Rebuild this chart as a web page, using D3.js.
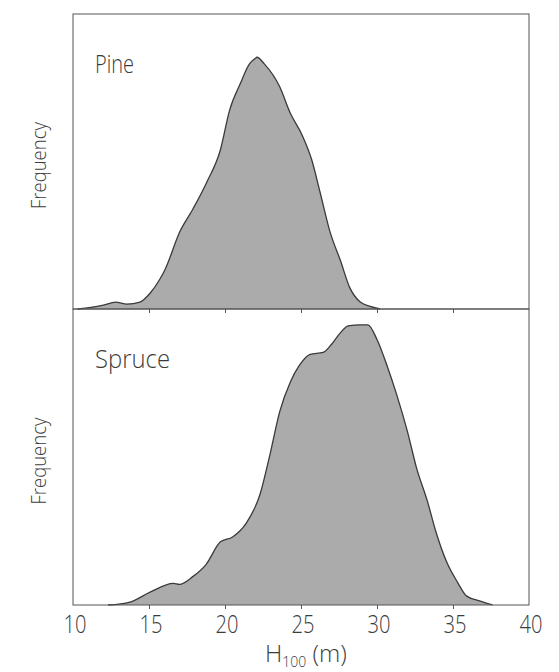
<!DOCTYPE html>
<html><head><meta charset="utf-8">
<script src="https://cdn.jsdelivr.net/npm/d3@7"></script>
<style>body{margin:0;background:#fff}</style>
</head><body>
<svg id="c" width="559" height="672"></svg>
<script>
// Data (H100 in m, relative frequency)
const pineH = [10.3,12.0,12.8,13.55,14.4,15.07,15.7,16.05,17.04,17.9,18.8,19.7,20.3,21.0,21.6,22.0,22.1,22.6,23.6,24.3,25.1,25.7,26.25,26.9,27.6,28.2,28.9,29.5,30.2];
const pineF = [0,4,7,5,7,16,30,40,79,102,129,162,202,229,249,255,256,249,226,199,176,152,119,79,49,22,7,3,0];
const spruceH = [12.3,13.75,15.07,16.6,17.0,17.9,18.75,19.7,20.5,21.4,22.3,22.95,23.6,24.3,24.9,25.6,26.45,27.0,27.6,28.1,28.9,29.4,30.0,30.65,31.3,32.0,32.6,33.3,33.9,34.6,35.3,35.9,36.8,37.6];
const spruceF = [0,3,13,22,21,29,41,64,69,83,112,152,196,226,243,254,256,264,276,283,284,284,269,243,213,176,139,106,73,43,23,9,4,0];
const xTicks = [10,15,20,25,30,35,40];
const panels = [
  {name:"Pine", h:pineH, f:pineF},
  {name:"Spruce", h:spruceH, f:spruceF}
];

const svg = d3.select("#c");
const left = 73, right = 529;
const tops = [14, 309], bottoms = [309, 605];
const x = d3.scaleLinear().domain([10,40]).range([left,right]);
const font = "'Open Sans', Inter, sans-serif";
function thin(sel){ return sel.attr("font-family",font).attr("font-weight",300).attr("fill","#3c3c3c"); }

panels.forEach((p,i)=>{
  const y = d3.scaleLinear().domain([0,300]).range([bottoms[i], tops[i]]);
  const pts = p.h.map((h,k)=>[h,p.f[k]]);
  const area = d3.area().x(d=>x(d[0])).y0(y(0)).y1(d=>y(d[1])).curve(d3.curveMonotoneX);
  const line = d3.line().x(d=>x(d[0])).y(d=>y(d[1])).curve(d3.curveMonotoneX);
  svg.append("path").attr("d", area(pts)).attr("fill","#ababab");
  svg.append("path").attr("d", line(pts)).attr("fill","none").attr("stroke","#3a3a3a").attr("stroke-width",1.3);
  // frame
  svg.append("rect").attr("x",left).attr("y",tops[i]).attr("width",right-left).attr("height",bottoms[i]-tops[i])
    .attr("fill","none").attr("stroke","#555").attr("stroke-width",1);
  // ticks at bottom of panel
  const ax = svg.append("g").attr("transform",`translate(0,${bottoms[i]})`)
    .call(d3.axisBottom(x).tickValues(xTicks.slice(1,-1)).tickSize(4).tickFormat(""));
  ax.select(".domain").remove();
  ax.selectAll("line").attr("stroke","#555");
  // panel label
  thin(svg.append("text").attr("x",95).attr("y",tops[i]+59).text(p.name))
    .attr("font-size",26)
    .attr("textLength", i===0?39:75).attr("lengthAdjust","spacingAndGlyphs");
  // y label
  thin(svg.append("text").attr("transform",`translate(46,${(tops[i]+bottoms[i])/2 + 4}) rotate(-90)`)
    .attr("text-anchor","middle").text("Frequency"))
    .attr("font-size",20)
    .attr("textLength",87).attr("lengthAdjust","spacingAndGlyphs");
});

// bottom tick labels
thin(svg.selectAll("text.tl").data(xTicks).join("text").attr("class","tl")
  .attr("x",d=>x(d)+2).attr("y",633).attr("text-anchor","middle").text(d=>d))
  .attr("font-size",25)
  .attr("textLength",23).attr("lengthAdjust","spacingAndGlyphs");

// x title
const t = thin(svg.append("text").attr("x",265).attr("y",662)).attr("font-size",24);
t.append("tspan").text("H");
t.append("tspan").attr("font-size",14).attr("dy",5).text("100");
t.append("tspan").attr("dy",-5).text(" (m)");
</script>
</body></html>
